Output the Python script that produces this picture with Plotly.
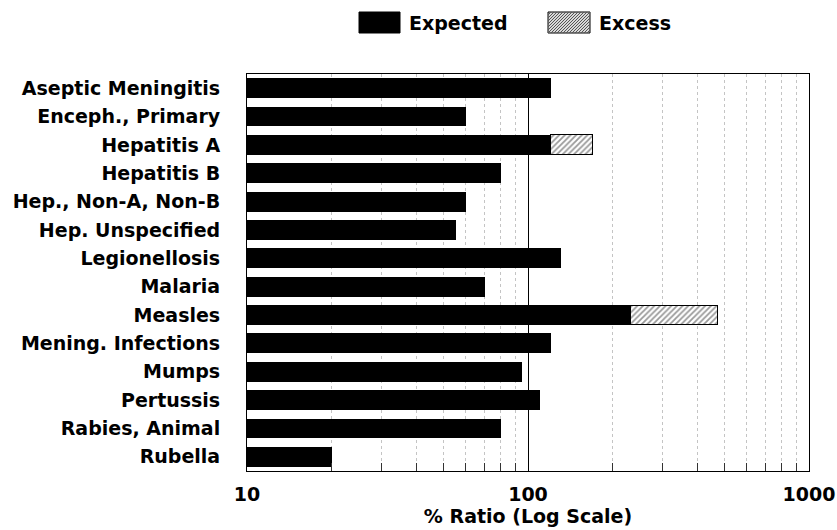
import plotly.graph_objects as go

categories = ["Aseptic Meningitis", "Enceph., Primary", "Hepatitis A", "Hepatitis B",
              "Hep., Non-A, Non-B", "Hep. Unspecified", "Legionellosis", "Malaria",
              "Measles", "Mening. Infections", "Mumps", "Pertussis", "Rabies, Animal", "Rubella"]
expected = [120, 60, 120, 80, 60, 55, 131, 70, 231, 120, 95, 110, 80, 20]
excess = [0, 0, 50, 0, 0, 0, 0, 0, 240, 0, 0, 0, 0, 0]
major_ticks = [10, 100, 1000]
minor_ticks = [20, 30, 40, 50, 60, 70, 80, 90, 200, 300, 400, 500, 600, 700, 800, 900]

W, H = 837, 530
L, R, T, B = 247, 28, 74, 59
FONT = "DejaVu Sans"
FS = 19

fig = go.Figure()
fig.add_trace(go.Bar(y=categories, x=expected, orientation="h", name="Expected",
                     marker=dict(color="black", line=dict(width=0)), width=0.7, showlegend=False))
fig.add_trace(go.Bar(y=categories, x=excess, orientation="h", name="Excess",
                     marker=dict(color="white", line=dict(color="black", width=1),
                                 pattern=dict(shape="/", fgcolor="#333", bgcolor="white",
                                              size=4, solidity=0.45)),
                     width=0.7, showlegend=False))

pw, ph = W - L - R, H - T - B
def px(x):
    return (x - L) / pw
def py(y):
    return (H - B - y) / ph

shapes = []
shapes.append(dict(type="rect", xref="paper", yref="paper", x0=px(359), x1=px(400),
                   y0=py(33), y1=py(12), fillcolor="black", line=dict(color="black", width=1)))
bx0, bx1, by0, by1 = 548, 590, 12, 33
hh = by1 - by0
segs = []
s = bx0 - hh
while s < bx1:
    xa, ya = s, by1
    xb, yb = s + hh, by0
    if xa < bx0:
        ya = by1 - (bx0 - xa); xa = bx0
    if xb > bx1:
        yb = by0 + (xb - bx1); xb = bx1
    segs.append(f"M{px(xa)},{py(ya)} L{px(xb)},{py(yb)}")
    s += 3
shapes.append(dict(type="rect", xref="paper", yref="paper", x0=px(bx0), x1=px(bx1),
                   y0=py(by1), y1=py(by0), fillcolor="#d8d8d8", line=dict(color="black", width=1)))
shapes.append(dict(type="path", xref="paper", yref="paper", path=" ".join(segs),
                   line=dict(color="#555", width=1)))

annotations = [
    dict(text="<b>Expected</b>", xref="paper", yref="paper", x=px(407), y=py(23),
         xanchor="left", yanchor="middle", showarrow=False, font=dict(family=FONT, size=FS, color="black")),
    dict(text="<b>Excess</b>", xref="paper", yref="paper", x=px(597), y=py(23),
         xanchor="left", yanchor="middle", showarrow=False, font=dict(family=FONT, size=FS, color="black")),
]

fig.update_layout(
    width=W, height=H, barmode="stack", bargap=0.3,
    margin=dict(l=L, r=R, t=T, b=B, autoexpand=False),
    paper_bgcolor="white", plot_bgcolor="white",
    font=dict(family=FONT, size=FS, color="black"),
    shapes=shapes, annotations=annotations,
    xaxis=dict(type="log", range=[1, 3], tickvals=major_ticks, ticktext=["<b>%d</b>" % v for v in major_ticks],
               showgrid=True, gridcolor="black", gridwidth=1, ticks="",
               showline=True, linecolor="black", linewidth=1, mirror=True,
               ticklabelstandoff=6, automargin=False,
               minor=dict(tickvals=minor_ticks, showgrid=True, gridcolor="#c4c4c4", griddash="dot",
                          gridwidth=1, ticks="inside", ticklen=8, tickcolor="#333"),
               title=dict(text="<b>% Ratio (Log Scale)</b>", standoff=2,
                          font=dict(family=FONT, size=FS)),
               zeroline=False),
    yaxis=dict(autorange="reversed", showgrid=False, ticks="", ticklabelstandoff=22, automargin=False,
               tickvals=categories, ticktext=["<b>%s</b>" % c for c in categories],
               showline=True, linecolor="black", linewidth=1, mirror=True),
)

fig.write_html("out.html", config={"displayModeBar": False},
               post_script="document.body.style.margin='0';")
